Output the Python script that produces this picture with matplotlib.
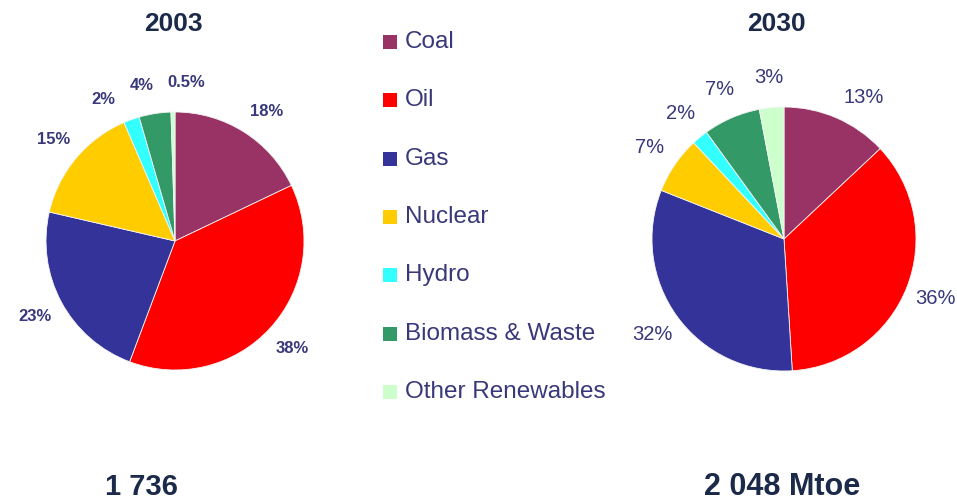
import numpy as np
import matplotlib.pyplot as plt
from matplotlib.patches import Rectangle

plt.rcParams['font.family'] = ['Liberation Sans', 'DejaVu Sans']

fuels = ['Coal', 'Oil', 'Gas', 'Nuclear', 'Hydro', 'Biomass & Waste', 'Other Renewables']
colors = ['#993366', '#ff0000', '#333399', '#ffcc00', '#33ffff', '#339966', '#ccffcc']

share_2003 = [18, 38, 23, 15, 2, 4, 0.5]
share_2030 = [13, 36, 32, 7, 2, 7, 3]
labels_2003 = ['18%', '38%', '23%', '15%', '2%', '4%', '0.5%']
labels_2030 = ['13%', '36%', '32%', '7%', '2%', '7%', '3%']
total_2003 = '1 736'
total_2030 = '2 048 Mtoe'

navy = '#38387a'
title_col = '#1c2a4a'


def draw_pie(ax, vals, labels, center, radius, nudge, fs, weight):
    wedges, _ = ax.pie(vals, colors=colors, startangle=90, counterclock=False,
                       center=center, radius=radius,
                       wedgeprops=dict(linewidth=0.6, edgecolor='#f4f4f4'))
    for i, w in enumerate(wedges):
        mid = np.deg2rad((w.theta1 + w.theta2) / 2 + nudge.get(i, 0))
        r = radius * 1.23
        ax.text(center[0] + r * np.cos(mid), center[1] + r * np.sin(mid), labels[i],
                ha='center', va='center', fontsize=fs, color=navy, fontweight=weight)


fig = plt.figure(figsize=(9.57, 5.04), dpi=100)
ax = fig.add_axes([0, 0, 1, 1])

draw_pie(ax, share_2003, labels_2003, (175, 263), 129,
         {0: -3, 4: 7, 5: 3, 6: -5}, 12, 'bold')
draw_pie(ax, share_2030, labels_2030, (784, 265), 132,
         {0: -6}, 14.5, 'normal')

ax.set_xlim(0, 957)
ax.set_ylim(0, 504)
ax.set_aspect('equal')
ax.axis('off')

# titles and totals
ax.text(173, 480, '2003', ha='center', va='center', fontsize=19, fontweight='bold', color=title_col)
ax.text(776, 480, '2030', ha='center', va='center', fontsize=19, fontweight='bold', color=title_col)
ax.text(141, 17, total_2003, ha='center', va='center', fontsize=21, fontweight='bold', color=title_col)
ax.text(782, 17, total_2030, ha='center', va='center', fontsize=22, fontweight='bold', color=title_col)

# legend drawn by hand
for i, (name, c) in enumerate(zip(fuels, colors)):
    y = 504 - (42 + i * 58.3)
    ax.add_patch(Rectangle((383, y - 7), 14, 14, facecolor=c, edgecolor='none'))
    ax.text(405, y, name, ha='left', va='center', fontsize=17.5, color=navy)

fig.savefig('out.png', dpi=100)
